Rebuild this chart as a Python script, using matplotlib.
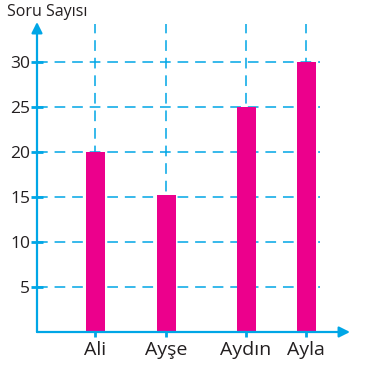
import matplotlib.pyplot as plt

# Data
names = ['Ali', 'Ayşe', 'Aydın', 'Ayla']
questions = [20, 15.2, 25, 30]
yticks = [5, 10, 15, 20, 25, 30]

blue = '#00a6e6'
magenta = '#ec008c'
dark = '#231f20'

plt.rcParams['font.family'] = ['Open Sans', 'DejaVu Sans']

fig = plt.figure(figsize=(3.89, 3.81), dpi=100)
# axes placed in pixel terms: y axis at x=37, x axis at y=332, top at y=22
ax = fig.add_axes([37 / 389, 49 / 381, (350 - 37) / 389, (332 - 22) / 381])
ax.set_xlim(37, 350)
ax.set_ylim(0, 34.4)

xpos = [95, 166, 246, 306]

# dashed guide lines
ax.hlines(yticks, 37, 320, colors=blue, linestyles=(0, (7, 4.5)), linewidth=1.1, zorder=1)
ax.vlines(xpos, 0, 34.2, colors=blue, linestyles=(0, (7, 4.5)), linewidth=1.1, zorder=1)

ax.bar(xpos, questions, width=19, color=magenta, zorder=2)

for s in ax.spines.values():
    s.set_visible(False)

# axes with arrow heads
ax.annotate('', xy=(1, 0), xytext=(0, 0), xycoords='axes fraction',
            arrowprops=dict(arrowstyle='-|>', color=blue, lw=1.6, mutation_scale=16,
                            shrinkA=0, shrinkB=0), zorder=3)
ax.annotate('', xy=(0, 1), xytext=(0, 0), xycoords='axes fraction',
            arrowprops=dict(arrowstyle='-|>', color=blue, lw=1.6, mutation_scale=16,
                            shrinkA=0, shrinkB=0), zorder=3)

ax.set_yticks(yticks)
ax.set_yticklabels([str(v) for v in yticks], fontsize=12.5, color=dark)
ax.set_xticks(xpos)
ax.set_xticklabels(names, fontsize=14, color=dark)
ax.tick_params(axis='y', direction='inout', length=8, width=2, color=blue, pad=1)
ax.tick_params(axis='x', direction='inout', length=7, width=2, color=blue, pad=3)

fig.text(7 / 389, 1 - 12 / 381, 'Soru Sayısı', fontsize=11.5, color=dark, va='center', ha='left')

fig.savefig('out.png', dpi=100)
